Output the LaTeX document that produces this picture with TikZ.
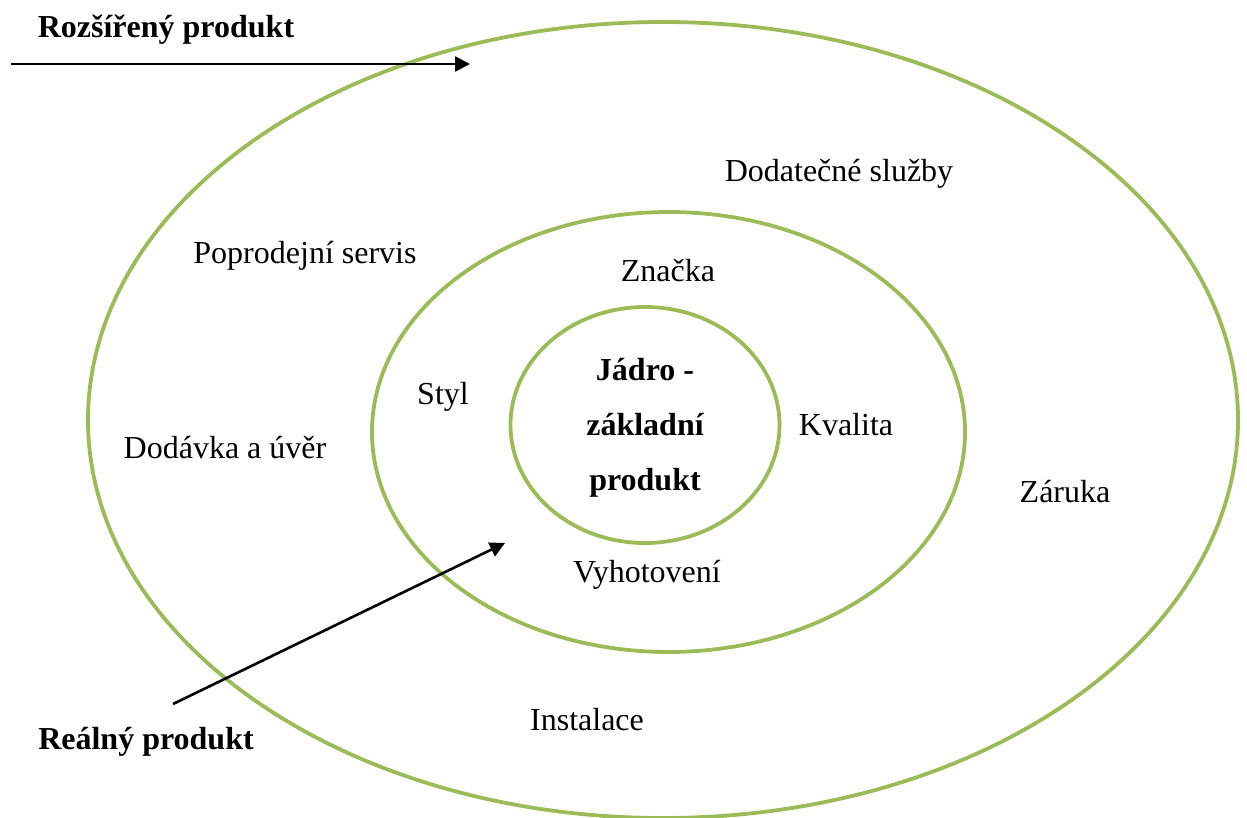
\documentclass[tikz,border=0pt]{standalone}
\usepackage{fontspec}
\setmainfont{Liberation Serif}
\usetikzlibrary{shapes.geometric,arrows.meta}
\definecolor{olive}{RGB}{155,187,89}

\begin{document}
\begin{tikzpicture}[x=0.5pt, y=-0.5pt,
    ring/.style = {draw=olive, line width=1.9pt, ellipse, inner sep=0pt},
    lbl/.style = {font=\fontsize{16}{19}\selectfont, inner sep=0pt},
    head/.style = {lbl, font=\fontsize{16}{19}\selectfont\bfseries},
    pointer/.style = {-{Triangle[length=7.5pt,width=7.5pt]}, line width=1.3pt}]
    \useasboundingbox (0,0) rectangle (1247,818);
    % rings
    \node[ring, minimum width=575pt, minimum height=398pt] (outer) at (663,420) {};
    \node[ring, minimum width=296.5pt, minimum height=220pt] (middle) at (668.5,432) {};
    \node[ring, minimum width=134.5pt, minimum height=118pt] (core) at (645,425) {};
    \node[inner sep=0pt, align=center, font=\fontsize{16}{27.5}\selectfont\bfseries]
        (jadro) at (645,428) {Jádro -\\základní\\produkt};
    % labels
    \node[head] (ext) at (166,30) {Rozšířený produkt};
    \node[head] (real) at (146,742) {Reálný produkt};
    \node[lbl] (dod) at (839,174) {Dodatečné služby};
    \node[lbl] (pop) at (305,256) {Poprodejní servis};
    \node[lbl] (zna) at (668,271) {Značka};
    \node[lbl] (sty) at (443,397) {Styl};
    \node[lbl] (kva) at (846,425) {Kvalita};
    \node[lbl] (dav) at (225,448) {Dodávka a úvěr};
    \node[lbl] (zar) at (1065,492) {Záruka};
    \node[lbl] (vyh) at (647,575) {Vyhotovení};
    \node[lbl] (ins) at (587,720) {Instalace};
    % arrows
    \coordinate (a1) at (11,64);
    \coordinate (b1) at (470,64);
    \coordinate (a2) at (173,704);
    \coordinate (b2) at (505,543);
    \draw[pointer] (a1) -- (b1);
    \draw[pointer] (a2) -- (b2);
\end{tikzpicture}
\end{document}
